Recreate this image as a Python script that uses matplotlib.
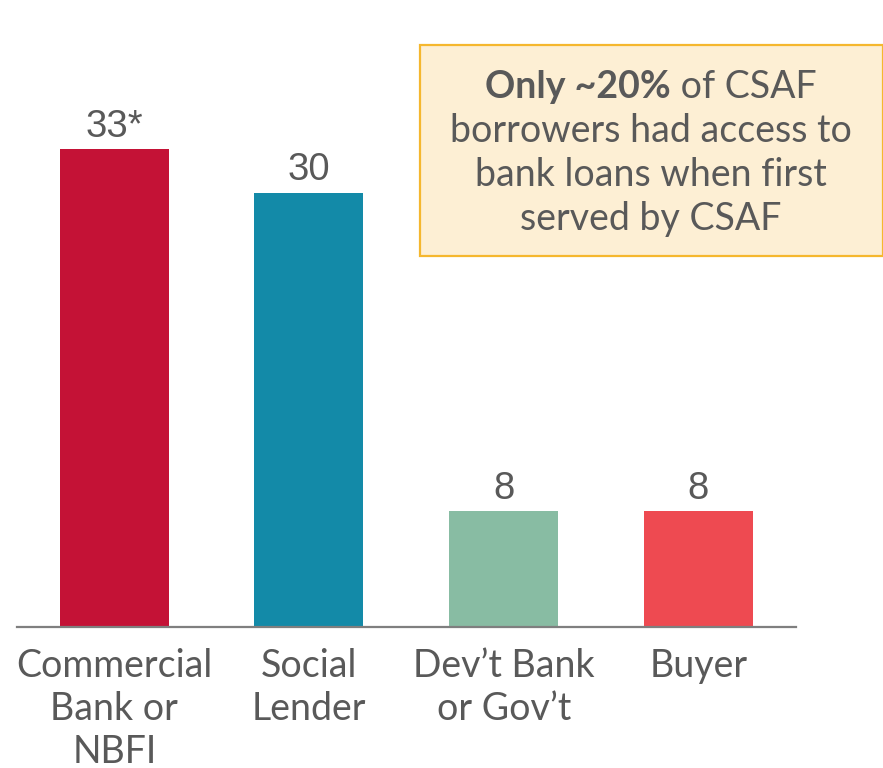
import matplotlib
matplotlib.use("Agg")
import matplotlib.pyplot as plt
from matplotlib.patches import Rectangle

plt.rcParams['font.family'] = ['Lato', 'DejaVu Sans']

categories = ["Commercial\nBank or\nNBFI", "Social\nLender", "Dev\u2019t Bank\nor Gov\u2019t", "Buyer"]
values = [33, 30, 8, 8]
value_labels = ["33*", "30", "8", "8"]
colors = ["#C41236", "#138AA8", "#88BCA3", "#EE4A51"]

note_bold = "Only ~20%"
note_rest = " of CSAF"
note_lines = ["borrowers had access to", "bank loans when first", "served by CSAF"]

text_grey = "#595959"

fig = plt.figure(figsize=(8.83, 7.68), dpi=100)
ax = fig.add_axes([0.0193, 0.1836, 0.8817, 0.8164])

x = list(range(len(values)))
ax.bar(x, values, width=0.56, color=colors)
for xi, v, lab in zip(x, values, value_labels):
    ax.text(xi, v + 0.85, lab, ha='center', va='baseline', fontsize=27.5,
            color=text_grey, family=['Liberation Sans', 'DejaVu Sans'])

ax.set_xlim(-0.5, 3.5)
ax.set_ylim(0, 43.3)
ax.set_xticks(x)
ax.set_xticklabels(categories, fontsize=27, color=text_grey, linespacing=1.25)
ax.tick_params(axis='x', length=0, pad=15)
ax.set_yticks([])
for s in ['top', 'right', 'left']:
    ax.spines[s].set_visible(False)
ax.spines['bottom'].set_color("#7F7F7F")
ax.spines['bottom'].set_linewidth(1.6)

# callout box
fig.patches.append(Rectangle((420 / 883, 1 - 256 / 768), 463 / 883, 211 / 768,
                             transform=fig.transFigure, facecolor="#FDEFD4",
                             edgecolor="#F5B72E", linewidth=1.6, zorder=0))

cx = 651 / 883
fig.canvas.draw()
r = fig.canvas.get_renderer()
fs = 27
y0 = 1 - 87 / 768
tb = fig.text(0, y0, note_bold, fontsize=fs, fontweight='bold', color=text_grey, va='center')
tr = fig.text(0, y0, note_rest, fontsize=fs, color=text_grey, va='center')
wb = tb.get_window_extent(r).width / fig.bbox.width
wr = tr.get_window_extent(r).width / fig.bbox.width
left = cx - (wb + wr) / 2
tb.set_x(left)
tr.set_x(left + wb)

for i, line in enumerate(note_lines):
    fig.text(cx, 1 - (131 + 44 * i) / 768, line, fontsize=fs, color=text_grey,
             ha='center', va='center')

fig.savefig("out.png", dpi=100)
